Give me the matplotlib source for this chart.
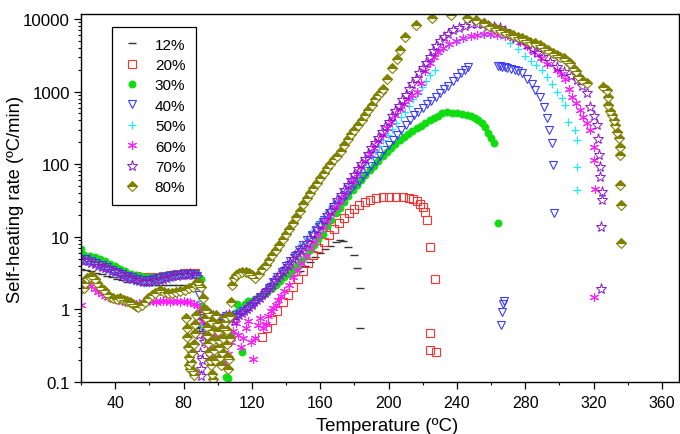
import matplotlib
matplotlib.use('Agg')
import matplotlib.pyplot as plt
from matplotlib.ticker import LogLocator, NullFormatter, MultipleLocator

plt.rcParams['font.family'] = ['Liberation Sans', 'DejaVu Sans']

# ---- data (temperature in degC, rate in degC/min) ----
t12 = [20, 23, 26, 29, 32, 35, 38, 41, 44, 47, 50, 53, 56, 59, 62, 65, 68, 71, 74, 77, 80, 83, 86, 88,
       86.5, 88, 89.5, 91, 145, 148, 151, 154, 157, 160, 163, 166, 169, 171.5, 173.6, 176.5, 179.5, 181.4,
       183.4, 183.4]
r12 = [3.6, 3.5, 3.35, 3.2, 3.05, 2.9, 2.75, 2.6, 2.5, 2.4, 2.35, 2.3, 2.25, 2.2, 2.2, 2.2, 2.2, 2.2, 2.2,
       2.15, 2.15, 2.1, 2.1, 2.0, 0.62, 0.58, 0.55, 0.5, 3.0, 3.4, 3.9, 4.5, 5.2, 5.9, 6.7, 7.5, 8.4, 9.0,
       8.7, 7.3, 5.6, 3.7, 1.95, 0.55]

t20 = [20, 24, 28, 32, 36, 40, 44, 48, 52, 56, 60, 64, 68, 72, 76, 80, 84, 87,
       126, 129, 132, 135, 138, 141, 144, 147, 150, 153, 156, 159, 162, 165, 168, 171, 174, 177, 180, 183,
       186, 189, 192.5, 196.5, 200.5, 204.5, 208.5, 212, 214.6, 216.5, 218.5, 220, 221.4, 222.4, 224.4,
       226.9, 224.4, 224, 227.9]
r20 = [5.3, 5.1, 4.8, 4.4, 4.0, 3.6, 3.3, 3.0, 2.85, 2.75, 2.75, 2.8, 2.9, 3.0, 3.1, 3.15, 3.2, 3.15,
       0.42, 0.55, 0.72, 0.95, 1.25, 1.6, 2.05, 2.65, 3.4, 4.4, 5.6, 7.0, 8.6, 10.5, 12.8, 15.3, 18, 21,
       24, 27, 30, 32.3, 34, 34.8, 35, 35, 34.8, 34.3, 33.5, 31.5, 28.5, 25.5, 22, 17, 7.3, 2.6,
       0.48, 0.275, 0.256]

t30 = [20, 22, 25, 28, 31, 34, 37, 40, 43, 46, 49, 52, 55, 58, 61, 64, 67, 70, 73, 76, 79, 82, 85, 88, 90,
       91, 92.5, 94, 96, 98, 100, 102, 103.5, 104.7, 106, 108, 110, 111.5, 113, 114.4, 116, 117.5, 120,
       122, 124, 126.5, 129, 131.5, 134, 136.5, 139, 141.5, 144, 146.5, 149, 151.5, 154, 156.5, 159,
       161.5, 164, 166.5, 169, 171.5, 174, 176.5, 179, 181.5, 184, 186.5, 189, 191.5, 194, 196.5, 199,
       201.5, 204, 206.5, 209, 211.5, 214, 216.5, 219, 221.5, 224, 226.5, 229, 231.5, 234, 237, 240,
       243, 246, 248, 250.5, 252.5, 254.5, 256.5, 258.5, 260, 262, 264.3]
r30 = [6.8, 5.7, 5.5, 5.3, 5.0, 4.6, 4.2, 3.9, 3.6, 3.35, 3.1, 2.95, 2.85, 2.8, 2.75, 2.8, 2.9, 3.0, 3.05,
       3.1, 3.15, 3.2, 3.2, 3.1, 2.6,
       1.1, 0.7, 0.5, 0.42, 0.4, 0.38, 0.3, 0.2, 0.118, 0.112, 0.45, 0.9, 1.2, 1.05, 0.26, 1.2, 1.3, 1.3,
       1.4, 1.5, 1.6, 1.75, 1.95, 2.2, 2.45, 2.75, 3.1, 3.5, 4.0, 4.7, 5.5, 6.5, 7.8, 9.3,
       11, 14, 17, 21, 25, 30, 36, 44, 52, 61, 71, 82, 94, 110, 128, 148,
       168, 192, 215, 240, 262, 285, 310, 340, 370, 400, 430, 465, 500, 520, 512, 505,
       490, 470, 455, 430, 400, 365, 320, 270, 230, 194, 15.3]

t40 = [20, 23, 26, 29, 32, 35, 38, 41, 44, 47, 50, 53, 56, 59, 62, 65, 68, 71, 74, 77, 80, 83, 86, 88, 89,
       90, 91.5, 93, 95, 97, 99, 101, 103, 105, 107, 109, 111, 113, 115, 117, 119, 121, 123, 125, 127.5,
       130, 132.5, 135, 137.5, 140, 142.5, 145, 147.5, 150, 152.5, 155, 157.5, 160, 162.5, 165, 167.5,
       170, 172.5, 175, 177.5, 180, 182.5, 185, 187.5, 190, 192.5, 195, 197.5, 200, 202.5, 205, 207.5,
       210, 212.5, 215, 217.5, 220, 222.5, 225, 227.5, 230, 232.5, 235, 237.5, 240, 242.5, 245, 246.5,
       264.3, 265.3, 266.5, 268, 269.3, 271.5, 274.1, 276, 278, 281, 283.9, 285.8, 288.8, 290.7, 292.7,
       294.2, 295.6, 296.5, 296.9, 267.3, 267, 266.3, 265.7]
r40 = [5.0, 4.9, 4.7, 4.4, 4.1, 3.8, 3.5, 3.3, 3.1, 2.9, 2.75, 2.65, 2.55, 2.55, 2.6, 2.7, 2.8, 2.85, 2.95,
       3.0, 3.05, 3.1, 3.05, 2.9, 1.6,
       0.8, 0.55, 0.6, 0.7, 0.75, 0.65, 0.7, 0.75, 0.8, 0.75, 0.8, 0.85, 0.9, 0.95, 1.0, 1.1, 1.2, 1.35,
       1.5, 1.7, 2.0, 2.35, 2.8, 3.3, 3.9, 4.6, 5.5, 6.5, 7.7, 9.0, 10.5, 12.3, 14.5, 17, 20, 23.5,
       27.5, 32, 37.5, 44, 51, 59, 69, 80, 95, 110, 130, 155, 185, 215, 255, 300,
       350, 410, 470, 530, 600, 670, 750, 850, 950, 1070, 1200, 1380, 1580, 1800, 2000, 2200,
       2280, 2250, 2200, 2150, 2090, 2050, 1990, 1900, 1780, 1510, 1290, 1050, 850, 620, 427,
       296, 194, 97, 21, 1.3, 1.17, 0.93, 0.61]

t50 = [20, 21.5, 24, 27, 30, 33, 36, 39, 42, 45, 48, 51, 54, 57, 60, 63, 66, 69, 72, 75, 78, 81, 84, 87,
       89, 90.5, 92, 94.5, 97, 99.5, 102, 104.5, 107, 109.5, 112, 114.5, 117, 119.5, 122, 124.5, 127,
       129.5, 132, 134.5, 137, 139.5, 142, 144.5, 147, 149.5, 152, 154.5, 157, 159.5, 162, 164.5, 167,
       169.5, 172, 174.5, 177, 179.5, 182, 184.5, 187, 189.5, 192, 194.5, 197, 199.5, 202, 204.5, 207,
       209.5, 212, 214.5, 217, 219.5, 222, 224.5, 227, 230, 235, 240, 245, 250, 255, 260, 265, 271.2,
       276, 280, 283.5, 286.5, 289.7, 292.7, 295.6, 298.5, 301.5, 303.4, 305.3, 309.2, 310.2, 310.2,
       310.5]
r50 = [2.0, 4.6, 4.5, 4.3, 4.0, 3.7, 3.45, 3.2, 2.95, 2.75, 2.6, 2.45, 2.35, 2.3, 2.3, 2.35, 2.45, 2.55,
       2.65, 2.75, 2.85, 2.9, 2.95, 2.9,
       1.3, 0.6, 0.55, 0.65, 0.7, 0.7, 0.75, 0.8, 0.8, 0.85, 0.9, 1.0, 1.05, 1.15, 1.3, 1.5, 1.75,
       2.05, 2.4, 2.85, 3.35, 3.95, 4.7, 5.6, 6.7, 8.0, 9.5, 11.3, 13.5, 16, 19, 22.5, 27,
       32, 38, 45, 54, 64, 76, 91, 108, 128, 152, 180, 215, 255, 305, 365, 440,
       530, 640, 780, 950, 1150, 1400, 1700, 2000, 3600, 4400, 5000, 5450, 5900, 6250, 6300, 5900, 4600,
       3800, 3100, 2600, 2300, 2000, 1600, 1290, 1000, 805, 650, 385, 296, 215, 92,
       44]

t60 = [20, 21, 22.5, 24, 26, 28, 30, 32, 34, 36, 38, 40, 42, 44, 46, 48, 50, 52, 54, 56, 58, 60, 62, 64,
       66, 68, 70, 72, 74, 76, 78, 80, 82, 84, 86, 88, 89.5, 91,
       92.5, 94, 95.5, 97, 98.5, 100, 101.5, 103, 104.5, 106, 107.5, 109, 110.5, 112, 113.5, 115, 116.5,
       118, 119.5, 120.5, 122, 123.5, 125, 126.5, 128, 129.5, 131, 132.5, 134, 135.5, 137, 139, 141.5,
       144, 146.5, 149, 151.5, 154, 156.5, 159, 161.5, 164, 166.5, 169, 171.5, 174, 176.5, 179, 181.5,
       184, 186.5, 189, 191.5, 194, 196.5, 199, 201.5, 204, 206.5, 209, 211.5, 214, 216.5, 219, 221.5,
       224, 226.5, 229, 232, 235.5, 239.5, 243.5, 248, 252, 255.6, 259.5, 263.5, 268, 273.1, 277, 281,
       285, 289, 293, 298.5, 301, 303.4, 305.5, 307.3, 309.5, 312, 314, 316.1, 318, 320, 320, 321, 320.4]
r60 = [1.15, 2.3, 2.5, 2.3, 2.1, 1.9, 1.75, 1.65, 1.55, 1.5, 1.45, 1.4, 1.35, 1.3, 1.28, 1.25, 1.22, 1.2,
       1.22, 1.25, 1.28, 1.3, 1.3, 1.28, 1.3, 1.32, 1.3, 1.28, 1.3, 1.3, 1.28, 1.3, 1.28, 1.25, 1.2, 1.15,
       1.0, 0.7,
       0.45, 0.32, 0.22, 0.3, 0.45, 0.6, 0.4, 0.25, 0.18, 0.24, 0.35, 0.5, 0.65, 0.45, 0.3, 0.4, 0.55,
       0.7, 0.35, 0.21, 0.4, 0.6, 0.75, 0.55, 0.62, 0.8, 0.95, 1.05, 1.15, 1.35, 1.55, 1.8, 2.2,
       2.8, 3.5, 4.4, 5.5, 6.9, 8.6, 10.7, 13.3, 16.5, 20.5, 25.5, 31.5, 39, 48, 59, 73,
       90, 111, 137, 168, 207, 255, 315, 385, 470, 570, 680, 800, 900, 980, 1300, 1900,
       2500, 3000, 3500, 4000, 4500, 5000, 5400, 5800, 6100, 6300, 6300, 6100, 5800, 5400, 4800, 4200,
       3500, 2900, 2400, 1990, 1750, 1510, 1100, 850, 700, 560, 450, 365, 296, 174, 114, 46, 1.5]

t70 = [20, 22, 24, 26, 28, 30, 32, 34, 36, 38, 40, 42, 44, 46, 48, 50, 52, 54, 56, 58, 60, 62, 64, 66, 68,
       70, 72, 74, 76, 78, 80, 82, 84, 86, 88, 89, 89.3, 89.6, 90, 90.4, 91, 92, 93, 94.5, 96, 97.5, 99,
       100.5, 102, 103.5, 105, 106.5, 108, 109.5, 111, 112.5, 114, 115.5, 117, 118.5, 120, 121.5, 123,
       124.5, 126, 127.5, 129, 130.5, 132, 133.5, 135, 136.5, 138, 139.5, 141, 142.5, 144, 145.5, 147,
       148.5, 150, 152, 154, 156, 158, 160, 162, 164, 166, 168, 170, 172, 174, 176, 178, 180, 182, 184,
       186, 188, 190, 192, 194, 196, 198, 200, 202, 204, 206, 208, 210, 212, 214, 216, 218, 220, 222,
       224, 226, 228, 230, 232.5, 235, 238, 241, 244.5, 248, 251.5, 255, 258.5, 262, 265.3, 268, 271,
       274, 277.5, 281, 284, 286.8, 290.5, 294.6, 298.5, 302.4, 306.5, 310.2, 313.5, 316.1, 318, 320,
       321.9, 322.5, 322.9, 323.9, 324, 324.8, 324.8, 324.4, 324.4]
r70 = [4.8, 4.7, 4.6, 4.4, 4.2, 4.0, 3.85, 3.7, 3.55, 3.4, 3.25, 3.1, 2.95, 2.8, 2.7, 2.6, 2.5, 2.45, 2.4,
       2.4, 2.42, 2.45, 2.5, 2.58, 2.65, 2.72, 2.8, 2.85, 2.92, 2.98, 3.0, 3.02, 3.05, 3.0, 2.75, 0.8,
       0.45, 0.25, 0.15, 0.12, 0.2, 0.35, 0.5, 0.6, 0.7, 0.8, 0.75, 0.65, 0.6, 0.7, 0.8, 0.85, 0.75,
       0.7, 0.8, 0.85, 0.9, 0.95, 1.0, 1.08, 1.15, 1.25, 1.35, 1.45, 1.58, 1.7, 1.85, 2.0, 2.2, 2.45,
       2.7, 3.0, 3.3, 3.65, 4.0, 4.4, 4.9, 5.4, 6.0, 6.6, 7.3, 8.3, 9.6, 11, 12.7, 14.6, 17, 19.8, 23,
       27, 32, 37.5, 44, 52, 61, 72, 85, 100, 118, 140, 165, 195, 232, 275, 325, 385, 455, 540, 640,
       760, 900, 1070, 1270, 1500, 1780, 2100, 2500, 3000, 3600, 4250, 4900, 5600, 6300, 7000, 7600,
       8100, 8500, 8600, 8400, 8100, 7800, 7400, 6800, 6100, 5500, 4900, 4370, 3850, 3380, 2950, 2570,
       2200, 1880, 1650, 1440, 1200, 945, 620, 460, 345, 220, 133, 92, 67, 42, 32, 13.8, 1.9]

t80 = [20, 21.6, 22.6, 23.6, 25, 26.5, 28, 29.4, 31, 33.2, 35, 37.1, 39, 41, 43, 45, 47, 48.7, 50.5, 52,
       53.5, 55.5, 57.4, 59.4, 61.3, 63.5, 66.1, 68.5, 70.9, 73.4, 75.8, 78.2, 80.6, 83, 85.4, 87, 88.3,
       89.3, 90.2, 91.2, 92,
       81.5, 81.8, 82.2, 82.6, 83, 83.5, 84, 84.5, 85, 85.4, 86.4, 86, 86.5, 87, 87.5,
       93, 93.2, 93.6, 94, 94.4, 94.9, 95.4, 96, 96.5, 97, 95.2, 95.8, 96.4, 97.2, 98, 98.5,
       99, 99.5, 100, 100.6, 101, 101.6, 102.2, 102.7, 103.2, 103.7, 104.2, 104.7, 105.2, 105.5, 105.9,
       106.3, 106.7, 107, 107.3,
       107.6, 108.6, 109.6, 110.5, 112.5, 114.4, 116.3, 118.2, 120.2, 122, 124, 126, 128, 130, 132, 134,
       136, 138, 140, 142, 144, 146, 148, 150, 152, 154, 156, 158, 160, 162, 164, 166, 168, 170, 172,
       174, 176, 178, 180, 182.4, 184.5, 186.3, 188.2, 190.2, 192, 193.7, 195.5, 197, 199, 202, 204.9,
       206.8, 209.7, 215.8, 225.6, 236.6, 246.2, 251, 255.6, 259, 262.4, 265, 268.3, 271, 273.1, 275.5,
       278, 280.5, 282.9, 285.8, 288.6, 291, 293.6, 296, 298.5, 300.5, 302.4, 304.5, 306.3, 308.2,
       309.5, 311, 313.2, 316.1, 325.8, 327.8, 328.2, 328.7, 329.7, 330.7, 331.7, 332.7, 333.6, 334.6,
       335.2, 335.6, 335.6, 336, 336.2]
r80 = [1.9, 1.95, 2.3, 2.7, 2.8, 2.85, 2.6, 2.3, 2.05, 1.84, 1.65, 1.5, 1.45, 1.4, 1.42, 1.35, 1.3, 1.28,
       1.2, 1.12, 1.09, 1.15, 1.28, 1.42, 1.57, 1.7, 1.84, 1.75, 1.66, 1.7, 1.75, 1.8, 1.84, 1.95, 2.05,
       2.25, 2.4, 2.2, 2.05, 1.42, 1.0,
       0.75, 0.55, 0.42, 0.3, 0.22, 0.17, 0.15, 0.19, 0.26, 0.14, 0.125, 0.33, 0.48, 0.62, 0.85,
       0.98, 0.75, 0.58, 0.44, 0.34, 0.26, 0.2, 0.17, 0.13, 0.11, 0.9, 0.7, 0.52, 0.38, 0.28, 0.2,
       0.85, 0.65, 0.5, 0.38, 0.3, 0.22, 0.17, 0.26, 0.4, 0.55, 0.68, 0.78, 0.52, 0.33, 0.22,
       0.15, 0.21, 0.4, 0.8,
       1.28, 2.16, 2.7, 2.96, 3.2, 3.3, 3.3, 3.2, 3.0, 2.67, 3.1, 3.6, 4.1, 4.8, 5.6, 6.6,
       7.8, 9.3, 11, 13, 15.5, 19, 23, 28, 34, 40, 47, 55, 64, 76, 88, 102, 118, 130, 150,
       185, 225, 260, 300, 346, 410, 475, 560, 650, 780, 900, 1000, 1100, 1500, 2090, 2800,
       3730, 5700, 8300, 10200, 11200, 10400, 9700, 8700, 8000, 7400, 7000, 6680, 6300, 6000, 5700,
       5400, 5100, 4870, 4600, 4370, 4000, 3730, 3450, 3170, 2950, 2860, 2650, 2440, 2090,
       1900, 1650, 1440, 1300, 1170, 1050, 850, 650, 540, 475, 410, 345, 280, 226,
       170, 133, 51, 27, 8.1]

labels = ['12%', '20%', '30%', '40%', '50%', '60%', '70%', '80%']
xticks = [40, 80, 120, 160, 200, 240, 280, 320, 360]
yticks = [0.1, 1, 10, 100, 1000, 10000]
yticklabels = ['0.1', '1', '10', '100', '1000', '10000']

series = [(t12, r12), (t20, r20), (t30, r30), (t40, r40), (t50, r50), (t60, r60), (t70, r70), (t80, r80)]

olive = '#808000'
styles = [
    dict(marker='_', ms=5.5, mew=1.0, color='#333333'),
    dict(marker='s', ms=5.5, mew=0.8, mfc='none', color='#ff3030'),
    dict(marker='o', ms=5.2, mew=0.5, color='#10dd10'),
    dict(marker='v', ms=6.2, mew=0.8, mfc='none', color='#3c3cff'),
    dict(marker='+', ms=6, mew=0.9, color='#20e8f0'),
    dict(marker=(6, 2, 0), ms=6.5, mew=0.8, color='#ff20ff'),
    dict(marker='*', ms=8, mew=0.7, mfc='none', color='#8a18c8'),
    dict(marker='D', ms=5, mew=0.8, color=olive, mfc=olive, mfcalt='white', fillstyle='top'),
]

fig = plt.figure(figsize=(6.8, 4.35), dpi=100)
ax = fig.add_axes([81/680, 52/435, 598/680, 368/435])

for (t, r), lab, st in zip(series, labels, styles):
    ax.plot(t, r, linestyle='none', label=lab, **st)

ax.set_yscale('log')
ax.set_xlim(20, 370)
ax.set_ylim(0.1, 11700)
ax.set_xticks(xticks)
ax.xaxis.set_minor_locator(MultipleLocator(20))
ax.set_yticks(yticks)
ax.set_yticklabels(yticklabels)
ax.yaxis.set_minor_locator(LogLocator(base=10, subs=range(2, 10)))
ax.yaxis.set_minor_formatter(NullFormatter())

ax.tick_params(which='major', direction='out', length=5, width=0.9)
ax.tick_params(axis='x', which='major', pad=4.5, labelsize=11.5)
ax.tick_params(axis='y', which='major', pad=3, labelsize=12.2)
ax.tick_params(which='minor', direction='out', length=2.5, width=0.8)
ax.tick_params(top=False, right=False)
for sp in ax.spines.values():
    sp.set_linewidth(1.0)

ax.set_xlabel('Temperature (ºC)', fontsize=13.4, labelpad=4)
ax.xaxis.set_label_coords(0.512, -0.095)
ax.set_ylabel('Self-heating rate (ºC/min)', fontsize=13.2, labelpad=-1)

leg = ax.legend(loc='upper left', bbox_to_anchor=(0.052, 0.965), borderaxespad=0, fontsize=11,
                frameon=True, fancybox=False, edgecolor='black', framealpha=1, numpoints=1,
                handlelength=1.2, handletextpad=0.9, labelspacing=0.42, borderpad=0.7)
leg.get_frame().set_linewidth(0.9)

fig.savefig('out.png', dpi=100)
